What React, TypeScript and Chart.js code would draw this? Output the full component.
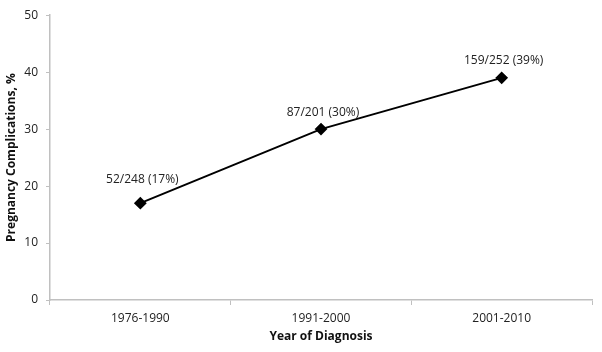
import React, { useEffect, useRef } from "react";
import { Chart, registerables } from "chart.js";

Chart.register(...registerables);

const categories = ["1976-1990", "1991-2000", "2001-2010"];
const percentValues = [17, 30, 39];
const pointLabels = ["52/248 (17%)", "87/201 (30%)", "159/252 (39%)"];
const yTicks = [0, 10, 20, 30, 40, 50];

const FONT = "'Open Sans', 'DejaVu Sans', sans-serif";

const labelPlugin = {
  id: "pointLabels",
  afterDatasetsDraw(chart: any) {
    const meta = chart.getDatasetMeta(0);
    const ctx = chart.ctx;
    ctx.save();
    ctx.font = `12px ${FONT}`;
    ctx.fillStyle = "#222";
    ctx.textAlign = "center";
    ctx.textBaseline = "middle";
    meta.data.forEach((pt: any, i: number) => {
      const off = i === 0 ? 24 : 17;
      ctx.fillText(pointLabels[i], pt.x + 2, pt.y - off);
    });
    ctx.restore();
  },
};

export default function App() {
  const ref = useRef<HTMLCanvasElement>(null);
  useEffect(() => {
    document.body.style.margin = "0";
    const chart = new Chart(ref.current!, {
      type: "line",
      data: {
        labels: categories,
        datasets: [
          {
            data: percentValues,
            borderColor: "#000",
            backgroundColor: "#000",
            borderWidth: 2,
            pointStyle: "rectRot",
            pointRadius: 5,
            pointBackgroundColor: "#000",
            pointBorderColor: "#000",
            tension: 0,
          },
        ],
      },
      options: {
        animation: false,
        responsive: false,
        maintainAspectRatio: false,
        layout: { padding: { top: 12, right: 10, left: 0, bottom: 0 } },
        plugins: { legend: { display: false }, tooltip: { enabled: false } },
        scales: {
          x: {
            offset: true,
            grid: {
              offset: true,
              drawOnChartArea: false,
              drawTicks: true,
              tickLength: 5,
              color: "#c0c0c0",
            },
            border: { color: "#c0c0c0", width: 1.5 },
            ticks: { font: { family: FONT, size: 12 }, color: "#222", padding: 6 },
            title: {
              display: true,
              text: "Year of Diagnosis",
              font: { family: FONT, size: 12, weight: "bold" },
              color: "#111",
              padding: { top: 0, bottom: 8 },
            },
            afterFit(scale: any) {
              scale.height = 52;
            },
          },
          y: {
            min: 0,
            max: 50,
            afterBuildTicks(scale: any) {
              scale.ticks = yTicks.map((v) => ({ value: v }));
            },
            grid: {
              drawOnChartArea: false,
              drawTicks: true,
              tickLength: 4,
              color: "#c0c0c0",
            },
            border: { color: "#c0c0c0", width: 1.5 },
            ticks: { font: { family: FONT, size: 12 }, color: "#222", padding: 8 },
            title: {
              display: true,
              text: "Pregnancy Complications, %",
              font: { family: FONT, size: 12, weight: "bold" },
              color: "#111",
            },
            afterFit(scale: any) {
              scale.width = 50;
            },
          },
        },
      },
      plugins: [labelPlugin],
    });
    return () => chart.destroy();
  }, []);
  return (
    <div style={{ width: 602, height: 352 }}>
      <canvas ref={ref} width={602} height={352} style={{ display: "block" }} />
    </div>
  );
}
